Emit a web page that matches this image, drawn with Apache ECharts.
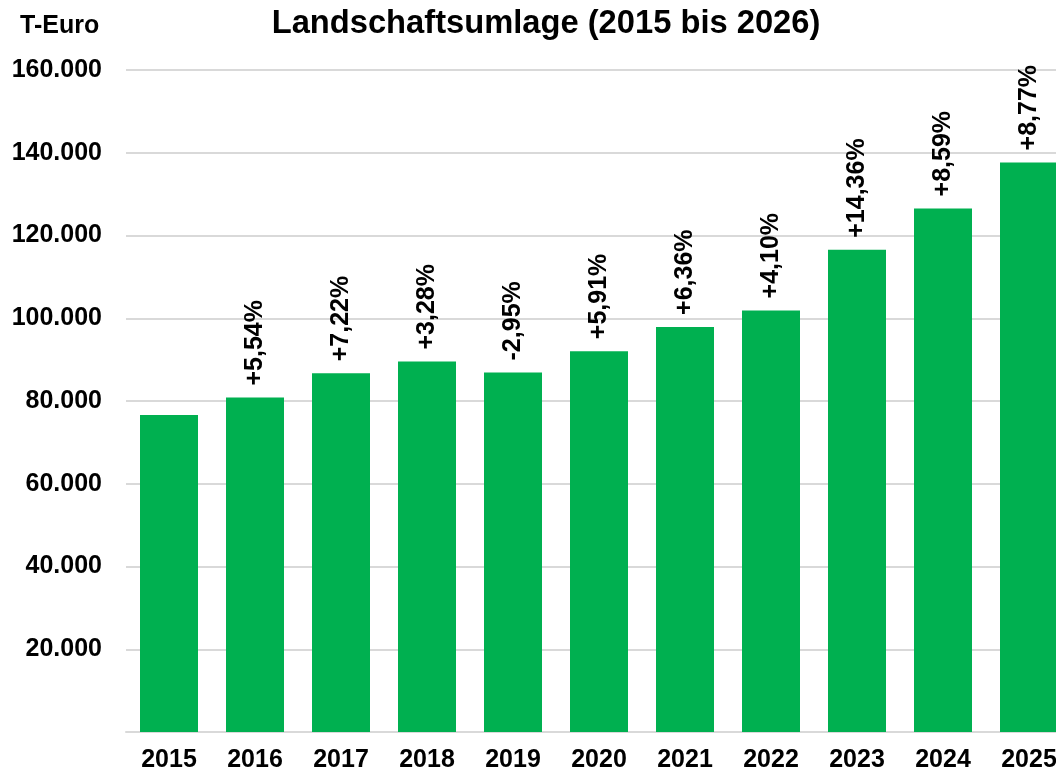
<!DOCTYPE html>
<html>
<head>
<meta charset="utf-8">
<script src="https://cdn.jsdelivr.net/npm/echarts@6/dist/echarts.min.js"></script>
<style>
html,body{margin:0;padding:0;background:#fff;overflow:hidden;width:1056px;height:776px;}
#chart{width:1072px;height:776px;}
</style>
</head>
<body>
<div id="chart"></div>
<script>
const categories = ['2015','2016','2017','2018','2019','2020','2021','2022','2023','2024','2025'];
const values = [76600, 80850, 86700, 89550, 86900, 92050, 97900, 101900, 116550, 126550, 137650];
const changeLabels = ['', '+5,54%', '+7,22%', '+3,28%', '-2,95%', '+5,91%', '+6,36%', '+4,10%', '+14,36%', '+8,59%', '+8,77%'];
const yTicks = [0, 20000, 40000, 60000, 80000, 100000, 120000, 140000, 160000];

const FONT = '"Liberation Sans", Arial, sans-serif';
const chart = echarts.init(document.getElementById('chart'), null, {renderer: 'canvas'});

function fmt(v) {
  if (v === 0) return '';
  return String(v).replace(/\B(?=(\d{3})+(?!\d))/g, '.');
}

chart.setOption({
  animation: false,
  backgroundColor: '#ffffff',
  title: {
    text: 'Landschaftsumlage (2015 bis 2026)',
    left: 541,
    top: 2,
    textAlign: 'center',
    textStyle: {fontFamily: FONT, fontWeight: 'bold', fontSize: 32.7, color: '#000'}
  },
  graphic: [{
    type: 'text',
    left: 20,
    top: 14,
    style: {text: 'T-Euro', fontFamily: FONT, fontWeight: 'bold', fontSize: 25, fill: '#000'}
  }],
  grid: {left: 126, right: 0, top: 70, bottom: 44, containLabel: false},
  xAxis: {
    type: 'category',
    data: categories,
    axisTick: {show: false},
    axisLine: {show: true, lineStyle: {color: '#d9d9d9', width: 2}},
    axisLabel: {fontFamily: FONT, fontWeight: 'bold', fontSize: 25, color: '#000', margin: 16, interval: 0}
  },
  yAxis: {
    type: 'value',
    min: yTicks[0],
    max: yTicks[yTicks.length - 1],
    interval: yTicks[1] - yTicks[0],
    axisLine: {show: false},
    axisTick: {show: false},
    splitLine: {lineStyle: {color: '#d9d9d9', width: 2}},
    axisLabel: {fontFamily: FONT, fontWeight: 'bold', fontSize: 25, color: '#000', margin: 24, formatter: fmt}
  },
  series: [{
    type: 'bar',
    data: values,
    barWidth: 58,
    itemStyle: {color: '#00B050'},
    label: {
      show: true,
      position: 'top',
      rotate: 90,
      align: 'left',
      verticalAlign: 'middle',
      distance: 12,
      fontFamily: FONT,
      fontWeight: 'bold',
      fontSize: 25,
      color: '#000',
      formatter: function (p) { return changeLabels[p.dataIndex]; }
    }
  }]
});
</script>
</body>
</html>
